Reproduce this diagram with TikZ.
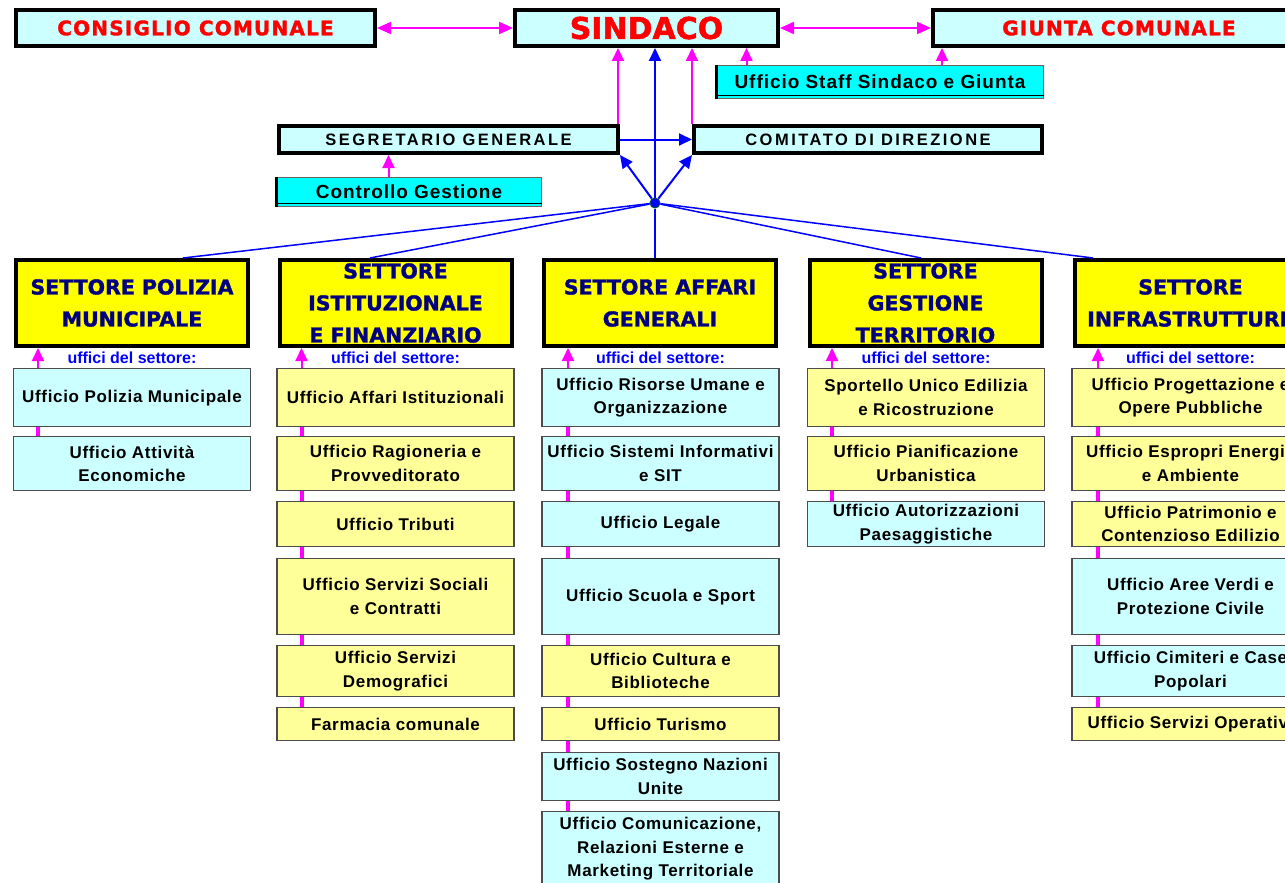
\documentclass[tikz,border=0pt]{standalone}
\usepackage{fontspec}
\setmainfont{Liberation Sans}
\newfontfamily\headfont{DejaVu Sans Bold}[FakeBold=1.6]
\newfontfamily\redfont{DejaVu Sans Bold}[LetterSpace=6, FakeBold=1.6]
\newfontfamily\spacedfont{Liberation Sans}[LetterSpace=15]
\newfontfamily\stafffont{Liberation Sans}[LetterSpace=5]
\newfontfamily\officefont{Liberation Sans}[LetterSpace=4]
\usetikzlibrary{arrows.meta}
\definecolor{boxcyan}{HTML}{CCFFFF}
\definecolor{staffcyan}{HTML}{00FFFF}
\definecolor{settyellow}{HTML}{FFFF00}
\definecolor{offyellow}{HTML}{FFFF99}
\definecolor{navytext}{HTML}{000080}
\definecolor{magline}{HTML}{FF00FF}
\definecolor{blueline}{HTML}{0000FF}
\definecolor{redtxt}{HTML}{FF0000}

\begin{document}
\begin{tikzpicture}[x=1pt, y=-1pt,
  topbox/.style={draw=black, line width=4pt, fill=boxcyan, inner sep=0pt},
  redtext/.style={text=redtxt, font=\redfont\fontsize{20}{24}\selectfont},
  spacedtext/.style={font=\spacedfont\bfseries\fontsize{16.5}{20}\selectfont},
  staffbox/.style={draw=black!60, line width=1pt, fill=staffcyan, inner sep=0pt,
    font=\stafffont\bfseries\fontsize{19}{22}\selectfont},
  settbox/.style={draw=black, line width=4pt, fill=settyellow, minimum width=232pt,
    minimum height=86pt, inner sep=0pt, align=center, text=navytext,
    font=\headfont\fontsize{20.5}{32}\selectfont},
  uffici/.style={text=blueline, font=\bfseries\fontsize{16}{18}\selectfont},
  office/.style={draw=black!70, line width=1.3pt, minimum width=237pt, inner sep=0pt,
    align=center, anchor=north, font=\officefont\bfseries\fontsize{17}{23.5}\selectfont},
  cyanoff/.style={office, fill=boxcyan},
  yellowoff/.style={office, fill=offyellow},
  magdouble/.style={draw=magline, line width=2pt,
    {Triangle[length=14pt,width=12pt]}-{Triangle[length=14pt,width=12pt]}},
  magarrow/.style={draw=magline, line width=2pt, -{Triangle[length=13pt,width=12pt]}},
  magbar/.style={draw=magline, line width=4pt},
  bluearrow/.style={draw=blueline, line width=2pt, -{Triangle[length=13pt,width=12pt]}},
  bluelink/.style={draw=blueline, line width=1.5pt}]
  \clip (0,0) rectangle (1285,883);

  \node[topbox, minimum width=359pt, minimum height=36pt, redtext] (consiglio) at (195.5,28) {CONSIGLIO COMUNALE};
  \node[topbox, minimum width=263pt, minimum height=36pt, text=redtxt,
    font=\headfont\fontsize{30}{30}\selectfont] (sindaco) at (646.5,28) {SINDACO};
  \node[topbox, minimum width=372pt, minimum height=36pt, redtext] (giunta) at (1119,28) {GIUNTA COMUNALE};

  \node[staffbox, minimum width=326pt, minimum height=32pt] (staff) at (880,82) {Ufficio Staff Sindaco e Giunta};
  \draw[line width=3pt] (staff.north west) -- (staff.south west);
  \draw[line width=1pt] ([yshift=3pt]staff.south west) -- ([yshift=3pt]staff.south east);

  \node[topbox, minimum width=339pt, minimum height=27pt, spacedtext] (segr) at (448.5,139.5) {SEGRETARIO GENERALE};
  \node[topbox, minimum width=348pt, minimum height=27pt, spacedtext] (comitato) at (868,139.5) {COMITATO DI DIREZIONE};

  \node[staffbox, minimum width=264pt, minimum height=29pt] (ctrl) at (409,191.5) {Controllo Gestione};
  \draw[line width=3pt] (ctrl.north west) -- (ctrl.south west);
  \draw[line width=1pt] ([yshift=3pt]ctrl.south west) -- ([yshift=3pt]ctrl.south east);

  \node[circle, fill=blueline, draw=teal!60!black, line width=1pt, inner sep=0pt, minimum size=10pt] (hub) at (655,203) {};

  \node[settbox] (pol) at (132,303) {SETTORE POLIZIA\\MUNICIPALE};
  \node[settbox] (ist) at (395.5,303) {SETTORE\\ISTITUZIONALE\\E FINANZIARIO};
  \node[settbox] (aff) at (660,303) {SETTORE AFFARI\\GENERALI};
  \node[settbox] (ges) at (925.5,303) {SETTORE\\GESTIONE\\TERRITORIO};
  \node[settbox] (inf) at (1190.5,303) {SETTORE\\INFRASTRUTTURE};

  \node[uffici] (polU) at (132,358) {uffici del settore:};
  \node[uffici] (istU) at (395.5,358) {uffici del settore:};
  \node[uffici] (affU) at (660.5,358) {uffici del settore:};
  \node[uffici] (gesU) at (926,358) {uffici del settore:};
  \node[uffici] (infU) at (1190.5,358) {uffici del settore:};

  \node[cyanoff, minimum height=58pt] (pol1) at (132,368) {Ufficio Polizia Municipale};
  \node[cyanoff, minimum height=54pt] (pol2) at (132,436) {Ufficio Attività\\Economiche};

  \node[yellowoff, minimum height=58pt] (ist1) at (395.5,368) {Ufficio Affari Istituzionali};
  \node[yellowoff, minimum height=54pt] (ist2) at (395.5,436) {Ufficio Ragioneria e\\Provveditorato};
  \node[yellowoff, minimum height=45pt] (ist3) at (395.5,501) {Ufficio Tributi};
  \node[yellowoff, minimum height=76pt] (ist4) at (395.5,558) {Ufficio Servizi Sociali\\e Contratti};
  \node[yellowoff, minimum height=51pt] (ist5) at (395.5,645) {Ufficio Servizi\\Demografici};
  \node[yellowoff, minimum height=33pt] (ist6) at (395.5,707) {Farmacia comunale};

  \node[cyanoff, minimum height=58pt] (aff1) at (660.5,368) {Ufficio Risorse Umane e\\Organizzazione};
  \node[cyanoff, minimum height=54pt] (aff2) at (660.5,436) {Ufficio Sistemi Informativi\\e SIT};
  \node[cyanoff, minimum height=45pt] (aff3) at (660.5,501) {Ufficio Legale};
  \node[cyanoff, minimum height=76pt] (aff4) at (660.5,558) {Ufficio Scuola e Sport};
  \node[yellowoff, minimum height=51pt] (aff5) at (660.5,645) {Ufficio Cultura e\\Biblioteche};
  \node[yellowoff, minimum height=33pt] (aff6) at (660.5,707) {Ufficio Turismo};
  \node[cyanoff, minimum height=48pt] (aff7) at (660.5,752) {Ufficio Sostegno Nazioni\\Unite};
  \node[cyanoff, minimum height=74pt] (aff8) at (660.5,811) {Ufficio Comunicazione,\\Relazioni Esterne e\\Marketing Territoriale};

  \node[yellowoff, minimum height=58pt] (ges1) at (926,368) {Sportello Unico Edilizia\\e Ricostruzione};
  \node[yellowoff, minimum height=54pt] (ges2) at (926,436) {Ufficio Pianificazione\\Urbanistica};
  \node[cyanoff, minimum height=45pt] (ges3) at (926,501) {Ufficio Autorizzazioni\\Paesaggistiche};

  \node[yellowoff, minimum height=58pt] (inf1) at (1190.5,368) {Ufficio Progettazione e\\Opere Pubbliche};
  \node[yellowoff, minimum height=54pt] (inf2) at (1190.5,436) {Ufficio Espropri Energia\\e Ambiente};
  \node[yellowoff, minimum height=45pt] (inf3) at (1190.5,501) {Ufficio Patrimonio e\\Contenzioso Edilizio};
  \node[cyanoff, minimum height=76pt] (inf4) at (1190.5,558) {Ufficio Aree Verdi e\\Protezione Civile};
  \node[cyanoff, minimum height=51pt] (inf5) at (1190.5,645) {Ufficio Cimiteri e Case\\Popolari};
  \node[yellowoff, minimum height=33pt] (inf6) at (1190.5,707) {Ufficio Servizi Operativi};

  \draw[magdouble] (consiglio) -- (sindaco);
  \draw[magdouble] (sindaco) -- (giunta);
  \draw[magarrow] ([xshift=30pt]staff.north west) -- ([xshift=30pt]staff.north west |- sindaco.south);
  \draw[magarrow] ([xshift=225.5pt]staff.north west) -- ([xshift=225.5pt]staff.north west |- giunta.south);
  \draw[magarrow] ([xshift=-2pt]segr.north east) -- ([xshift=-2pt]segr.north east |- sindaco.south);
  \draw[magarrow] (comitato.north west) -- (comitato.north west |- sindaco.south);
  \draw[magarrow] ([xshift=112pt]ctrl.north west) -- ([xshift=112pt]ctrl.north west |- segr.south);

  \draw[bluearrow] (hub) -- (hub |- sindaco.south);
  \draw[bluearrow] (segr) -- (comitato);
  \draw[bluearrow] (hub) -- (segr.south east);
  \draw[bluearrow] (hub) -- (comitato.south west);
  \draw[bluelink] (hub) -- ([xshift=51pt]pol.north);
  \draw[bluelink] (hub) -- ([xshift=-25.5pt]ist.north);
  \draw[bluelink] (hub) -- (hub |- aff.north);
  \draw[bluelink] (hub) -- ([xshift=-4.5pt]ges.north);
  \draw[bluelink] (hub) -- ([xshift=-97.5pt]inf.north);

  \draw[magarrow] ([xshift=-94pt]pol1.north) -- ([xshift=-94pt]pol1.north |- pol.south);
  \draw[magarrow] ([xshift=-94pt]ist1.north) -- ([xshift=-94pt]ist1.north |- ist.south);
  \draw[magarrow] ([xshift=-92.5pt]aff1.north) -- ([xshift=-92.5pt]aff1.north |- aff.south);
  \draw[magarrow] ([xshift=-94pt]ges1.north) -- ([xshift=-94pt]ges1.north |- ges.south);
  \draw[magarrow] ([xshift=-92.5pt]inf1.north) -- ([xshift=-92.5pt]inf1.north |- inf.south);

  \draw[magbar] ([xshift=-94pt]pol1.south) -- ([xshift=-94pt]pol2.north);
  \draw[magbar] ([xshift=-94pt]ist1.south) -- ([xshift=-94pt]ist2.north);
  \draw[magbar] ([xshift=-94pt]ist2.south) -- ([xshift=-94pt]ist3.north);
  \draw[magbar] ([xshift=-94pt]ist3.south) -- ([xshift=-94pt]ist4.north);
  \draw[magbar] ([xshift=-94pt]ist4.south) -- ([xshift=-94pt]ist5.north);
  \draw[magbar] ([xshift=-94pt]ist5.south) -- ([xshift=-94pt]ist6.north);
  \draw[magbar] ([xshift=-92.5pt]aff1.south) -- ([xshift=-92.5pt]aff2.north);
  \draw[magbar] ([xshift=-92.5pt]aff2.south) -- ([xshift=-92.5pt]aff3.north);
  \draw[magbar] ([xshift=-92.5pt]aff3.south) -- ([xshift=-92.5pt]aff4.north);
  \draw[magbar] ([xshift=-92.5pt]aff4.south) -- ([xshift=-92.5pt]aff5.north);
  \draw[magbar] ([xshift=-92.5pt]aff5.south) -- ([xshift=-92.5pt]aff6.north);
  \draw[magbar] ([xshift=-92.5pt]aff6.south) -- ([xshift=-92.5pt]aff7.north);
  \draw[magbar] ([xshift=-92.5pt]aff7.south) -- ([xshift=-92.5pt]aff8.north);
  \draw[magbar] ([xshift=-94pt]ges1.south) -- ([xshift=-94pt]ges2.north);
  \draw[magbar] ([xshift=-94pt]ges2.south) -- ([xshift=-94pt]ges3.north);
  \draw[magbar] ([xshift=-92.5pt]inf1.south) -- ([xshift=-92.5pt]inf2.north);
  \draw[magbar] ([xshift=-92.5pt]inf2.south) -- ([xshift=-92.5pt]inf3.north);
  \draw[magbar] ([xshift=-92.5pt]inf3.south) -- ([xshift=-92.5pt]inf4.north);
  \draw[magbar] ([xshift=-92.5pt]inf4.south) -- ([xshift=-92.5pt]inf5.north);
  \draw[magbar] ([xshift=-92.5pt]inf5.south) -- ([xshift=-92.5pt]inf6.north);
\end{tikzpicture}
\end{document}
